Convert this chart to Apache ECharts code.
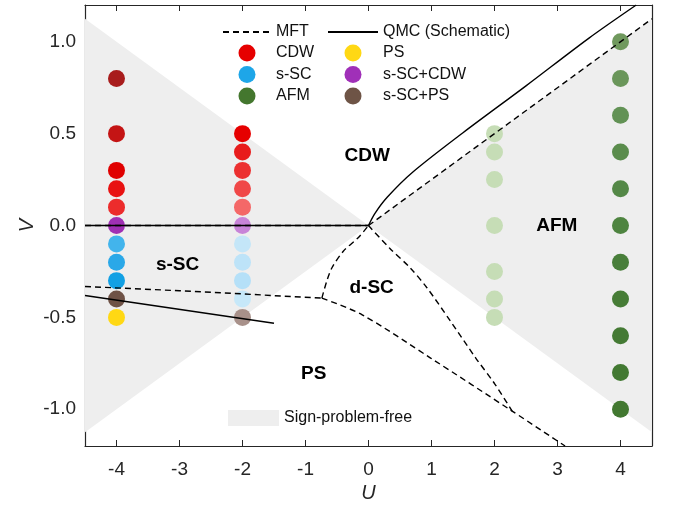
<!DOCTYPE html>
<html>
<head>
<meta charset="utf-8">
<script src="https://cdn.jsdelivr.net/npm/echarts@6/dist/echarts.min.js"></script>
<style>
    html, body { margin: 0; padding: 0; background: #fff; }
    #chart { width: 674px; height: 508px; }
</style>
</head>
<body>
<div id="chart"></div>
<script>
// axis ticks
const uTicks = [-4, -3, -2, -1, 0, 1, 2, 3, 4];
const vTicks = [-1, -0.5, 0, 0.5, 1];

// sign-problem-free region |V| <= |U|/4
const signFreeLeft = [[-4.5, 1.125], [0, 0], [-4.5, -1.125]];
const signFreeRight = [[4.5, 1.125], [0, 0], [4.5, -1.125]];

// MFT boundaries (dashed)
const mftZero = [[-4.5, 0], [0, 0]];
const mftDiag = [[0, 0], [4.5, 1.125]];
const mftLeft = [[-4.5, -0.332], [-3, -0.355], [-2, -0.372], [-1.5, -0.382], [-0.74, -0.395]];
const mftKink = [[-0.74, -0.395], [-0.66, -0.3], [-0.58, -0.23], [-0.4, -0.14], [-0.16, -0.065], [0, 0]];
const mftLower = [[-0.74, -0.395], [-0.1, -0.486], [0.98, -0.72], [2.28, -1.01], [3.12, -1.2]];
const mftRight = [[0, 0], [0.34, -0.125], [0.66, -0.23], [0.93, -0.34], [1.3, -0.52], [1.7, -0.72], [2.0, -0.86], [2.28, -1.01]];

// QMC boundaries (solid, schematic)
const qmcZero = [[-4.5, 0], [0, 0]];
const qmcLeft = [[-4.5, -0.381], [-1.5, -0.532]];
const qmcRight = [[0, 0], [0.1, 0.065], [0.3, 0.155], [0.7, 0.29], [1.5, 0.505], [2.5, 0.76], [3.5, 1.02], [4.25, 1.2]];

// QMC data points and their shades
const cdwPts = [[-4, 0.8], [-4, 0.5], [-4, 0.3], [-4, 0.2], [-4, 0.1], [-2, 0.5], [-2, 0.4], [-2, 0.3], [-2, 0.2], [-2, 0.1]];
const cdwShades = ['#a81c1c', '#c41414', '#e00000', '#e81212', '#ec2c2c', '#e60000', '#e81c1c', '#ec3030', '#f04848', '#f46868'];
const sscPts = [[-4, -0.1], [-4, -0.2], [-4, -0.3], [-2, -0.1], [-2, -0.2], [-2, -0.3], [-2, -0.4]];
const sscShades = ['#42b4ec', '#2aa8e8', '#12a0e4', '#c4e6f8', '#bde3f8', '#b5e0f8', '#c6e8f9'];
const afmPts = [[2, 0.5], [2, 0.4], [2, 0.25], [2, 0], [2, -0.25], [2, -0.4], [2, -0.5],
    [4, 1], [4, 0.8], [4, 0.6], [4, 0.4], [4, 0.2], [4, 0], [4, -0.2], [4, -0.4], [4, -0.6], [4, -0.8], [4, -1]];
const afmShades = ['#c6ddb6', '#c6ddb6', '#c6ddb6', '#c6ddb6', '#c6ddb6', '#c6ddb6', '#c6ddb6',
    '#70995e', '#6a965a', '#629255', '#5a8c4c', '#548847', '#4e8440', '#487e3a', '#467c36', '#447a34', '#427932', '#427830'];
const psPts = [[-4, -0.5]];
const psShades = ['#ffd814'];
const sscCdwPts = [[-4, 0], [-2, 0]];
const sscCdwShades = ['#a030b4', '#c884d8'];
const sscPsPts = [[-4, -0.4], [-2, -0.5]];
const sscPsShades = ['#6e5246', '#a8918a'];

// phase labels
const regionLabels = [['CDW', -0.02, 0.378], ['s-SC', -3.03, -0.215], ['d-SC', 0.05, -0.34], ['PS', -0.87, -0.805], ['AFM', 2.99, 0]];

const font = 'Liberation Sans, Arial, Helvetica, sans-serif';
const ink = '#262626';

function dots(name, pts, shades, legendColor) {
    return {
        name: name,
        type: 'scatter',
        symbol: 'circle',
        symbolSize: 17,
        z: 2,
        itemStyle: { color: legendColor, opacity: 1 },
        data: pts.map(function (p, i) {
            return { value: p, itemStyle: { color: shades[i] } };
        })
    };
}

function boundary(name, pts, dashed, smooth) {
    return {
        name: name,
        type: 'line',
        symbol: 'none',
        smooth: smooth ? 0.3 : false,
        z: 4,
        lineStyle: { color: '#000', width: 1.4, type: dashed ? [6, 4] : 'solid' },
        itemStyle: { color: '#000' },
        data: pts
    };
}

function frameAxis(extra) {
    return Object.assign({
        type: 'value',
        splitLine: { show: false },
        axisLine: { show: true, onZero: false, lineStyle: { color: ink, width: 1.2 } },
        axisTick: { show: true, inside: true, length: 6, lineStyle: { color: ink } },
        axisLabel: { show: false }
    }, extra);
}

// line entries in the legend: hide the marker, keep the line
const lineOnly = { color: 'rgba(0,0,0,0)', opacity: 0, borderWidth: 0 };

const chart = echarts.init(document.getElementById('chart'));

const option = {
    animation: false,
    grid: { left: 85, right: 22, top: 5, bottom: 59 },
    xAxis: [
        frameAxis({
            min: -4.5, max: 4.5,
            axisTick: { show: true, inside: true, length: 6, customValues: uTicks, lineStyle: { color: ink } },
            axisLabel: { show: true, customValues: uTicks, margin: 14, fontSize: 19, color: ink, fontFamily: font },
            name: 'U', nameLocation: 'middle', nameGap: 37, nameMoveOverlap: false,
            nameTextStyle: { fontSize: 20, fontStyle: 'italic', color: ink, fontFamily: font }
        }),
        frameAxis({
            position: 'top', min: -4.5, max: 4.5,
            axisTick: { show: true, inside: true, length: 6, customValues: uTicks, lineStyle: { color: ink } }
        })
    ],
    yAxis: [
        frameAxis({
            min: -1.2, max: 1.2,
            axisTick: { show: true, inside: true, length: 6, customValues: vTicks, lineStyle: { color: ink } },
            axisLabel: {
                show: true, customValues: vTicks, margin: 9, fontSize: 19, color: ink, fontFamily: font,
                formatter: function (v) { return v.toFixed(1); }
            },
            name: 'V', nameLocation: 'middle', nameGap: 48, nameMoveOverlap: false,
            nameTextStyle: { fontSize: 20, fontStyle: 'italic', color: ink, fontFamily: font }
        }),
        frameAxis({
            position: 'right', min: -1.2, max: 1.2,
            axisTick: { show: true, inside: true, length: 6, customValues: vTicks, lineStyle: { color: ink } }
        })
    ],
    legend: [
        {
            orient: 'vertical', left: 222, top: 24, padding: 0,
            itemWidth: 48, itemHeight: 17, itemGap: 4.5,
            textStyle: { fontSize: 16, color: '#111', fontFamily: font },
            data: [{ name: 'MFT', itemStyle: lineOnly }, 'CDW', 's-SC', 'AFM']
        },
        {
            orient: 'vertical', left: 327, top: 24, padding: 0,
            itemWidth: 50, itemHeight: 17, itemGap: 4.5,
            textStyle: { fontSize: 16, color: '#111', fontFamily: font },
            data: [{ name: 'QMC (Schematic)', itemStyle: lineOnly }, 'PS', 's-SC+CDW', 's-SC+PS']
        },
        {
            left: 228, top: 410, padding: 0,
            itemWidth: 51, itemHeight: 16, icon: 'rect',
            textStyle: { fontSize: 16, color: '#111', fontFamily: font },
            data: ['Sign-problem-free']
        }
    ],
    series: [
        {
            name: 'Sign-problem-free',
            type: 'custom',
            z: 1,
            silent: true,
            itemStyle: { color: '#eeeeee' },
            renderItem: function (params, api) {
                const pts = [];
                for (let k = 0; k < 3; k++) {
                    pts.push(api.coord([api.value(2 * k), api.value(2 * k + 1)]));
                }
                return { type: 'polygon', shape: { points: pts }, style: { fill: '#eeeeee' } };
            },
            data: [signFreeLeft.flat(), signFreeRight.flat()]
        },
        dots('CDW', cdwPts, cdwShades, '#e60000'),
        dots('s-SC', sscPts, sscShades, '#1ea6e8'),
        dots('AFM', afmPts, afmShades, '#44772e'),
        dots('PS', psPts, psShades, '#ffd814'),
        dots('s-SC+CDW', sscCdwPts, sscCdwShades, '#a030b8'),
        dots('s-SC+PS', sscPsPts, sscPsShades, '#6e5446'),
        boundary('MFT', mftZero, true, false),
        boundary('MFT', mftDiag, true, false),
        boundary('MFT', mftLeft, true, false),
        boundary('MFT', mftKink, true, true),
        boundary('MFT', mftLower, true, true),
        boundary('MFT', mftRight, true, true),
        boundary('QMC (Schematic)', qmcZero, false, false),
        boundary('QMC (Schematic)', qmcLeft, false, false),
        boundary('QMC (Schematic)', qmcRight, false, true),
        {
            name: 'phases',
            type: 'scatter',
            symbolSize: 0,
            silent: true,
            z: 5,
            itemStyle: { color: '#000', opacity: 1 },
            label: {
                show: true, position: 'inside', fontSize: 19, fontWeight: 'bold', color: '#000', opacity: 1,
                fontFamily: font,
                formatter: function (p) { return p.name; }
            },
            data: regionLabels.map(function (r) { return { name: r[0], value: [r[1], r[2]] }; })
        }
    ]
};

chart.setOption(option);
</script>
</body>
</html>
